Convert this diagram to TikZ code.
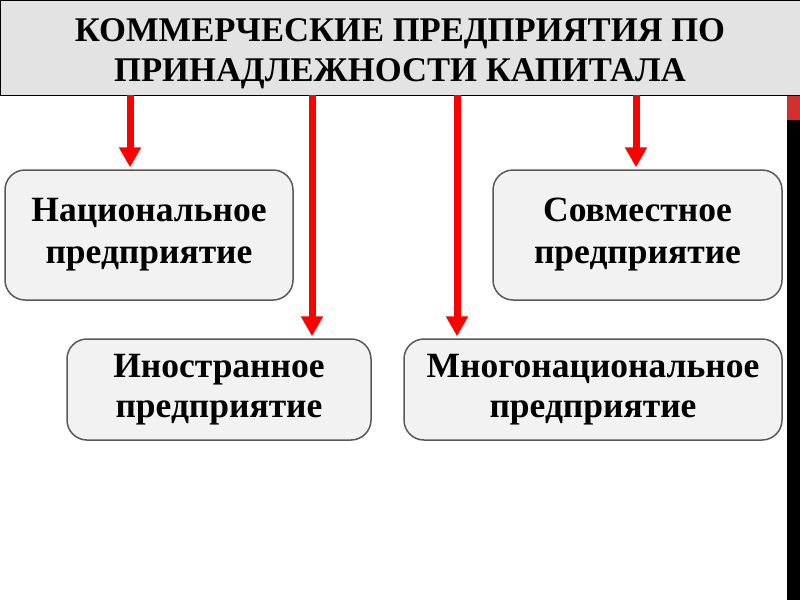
\documentclass[tikz,border=0pt]{standalone}
\usepackage{fontspec}
\setmainfont{Liberation Serif}
\usetikzlibrary{arrows.meta}
\definecolor{titlegrey}{HTML}{E3E3E3}
\definecolor{boxgrey}{HTML}{F2F2F2}
\definecolor{edgegrey}{HTML}{595959}
\definecolor{barred}{HTML}{D32F2F}
\tikzset{
  titleframe/.style={draw=black, fill=titlegrey, minimum width=800pt, minimum height=95pt,
    inner sep=0pt},
  titletext/.style={inner sep=0pt, align=center, font=\bfseries\fontsize{34.6}{40}\selectfont},
  kindbox/.style={draw=edgegrey, line width=1.5pt, fill=boxgrey, rounded corners=20pt,
    inner sep=0pt, align=center, font=\bfseries\fontsize{35.5}{40}\selectfont},
  tallbox/.style={kindbox, minimum height=130pt, font=\bfseries\fontsize{35.5}{42}\selectfont},
  lowbox/.style={kindbox, minimum height=101pt},
  redarrow/.style={red, line width=7pt, -{Triangle[length=20pt,width=21pt]}, shorten >=2pt}
}
\begin{document}
\begin{tikzpicture}[x=1pt,y=-1pt]
  \useasboundingbox (0,0) rectangle (800,600);
  \fill [white] (0,0) rectangle (800,600);
  % title
  \node [titleframe] (title) at (400,47.5) {};
  \node [titletext] (titlelabel) at (400,54) {КОММЕРЧЕСКИЕ ПРЕДПРИЯТИЯ ПО\\ПРИНАДЛЕЖНОСТИ КАПИТАЛА};
  % boxes
  \node [tallbox, minimum width=288pt] (nat) at (149,235) {Национальное\\предприятие};
  \node [tallbox, minimum width=289pt] (joint) at (637.5,235) {Совместное\\предприятие};
  \node [lowbox, minimum width=304pt] (foreign) at (219,389.5) {Иностранное\\предприятие};
  \node [lowbox, minimum width=378pt] (multi) at (593,389.5) {Многонациональное\\предприятие};
  % arrows
  \coordinate (a1) at (130,0);
  \coordinate (a2) at (312,0);
  \coordinate (a3) at (457,0);
  \coordinate (a4) at (636,0);
  \draw [redarrow] (title.south -| a1) -- (a1 |- nat.north);
  \draw [redarrow] (title.south -| a2) -- (a2 |- foreign.north);
  \draw [redarrow] (title.south -| a3) -- (a3 |- multi.north);
  \draw [redarrow] (title.south -| a4) -- (a4 |- joint.north);
  % edge strip
  \fill [black] (787,96) rectangle (800,600);
  \fill [barred] (787,96) rectangle (800,120);
\end{tikzpicture}
\end{document}
